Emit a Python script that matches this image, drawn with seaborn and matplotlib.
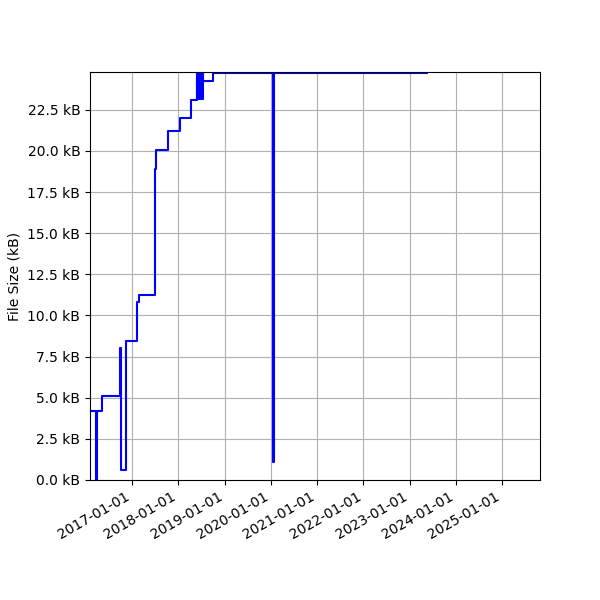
import pandas as pd
import seaborn as sns
import matplotlib
matplotlib.use("Agg")
import matplotlib.pyplot as plt
import matplotlib.dates as mdates
from matplotlib.ticker import FuncFormatter, MultipleLocator

# file size history (kB)
dates = [
    "2016-02-04", "2016-03-24", "2016-04-01", "2016-05-11", "2016-09-25",
    "2016-10-01", "2016-10-08", "2016-11-12", "2017-02-12", "2017-02-25",
    "2017-06-28", "2017-07-01", "2017-07-12", "2017-10-09", "2018-01-14",
    "2018-04-10", "2018-05-25", "2018-06-01", "2018-06-06", "2018-06-12",
    "2018-06-18", "2018-06-25", "2018-07-01", "2018-07-07", "2018-07-12",
    "2018-07-17", "2018-10-03", "2020-01-20", "2020-01-24", "2023-05-20",
]
sizes_kb = [
    4.19, 0.0, 4.19, 5.11, 6.10,
    8.03, 0.60, 8.43, 10.85, 11.27,
    15.60, 18.90, 20.07, 21.24, 22.00,
    23.12, 24.80, 23.15, 24.80, 23.15,
    24.80, 23.15, 24.80, 23.15, 24.80,
    24.23, 24.72, 1.07, 24.72, 24.72,
]

df = pd.DataFrame({"date": pd.to_datetime(dates), "size": sizes_kb})

fig, ax = plt.subplots(figsize=(6, 6), dpi=100)
sns.lineplot(data=df, x="date", y="size", color="blue", drawstyle="steps-post",
             linewidth=1.5, ax=ax)

ax.set_xlim(pd.Timestamp("2016-02-04"), pd.Timestamp("2025-10-27"))
ax.set_ylim(0, df["size"].max())
ax.yaxis.set_major_locator(MultipleLocator(2.5))
ax.yaxis.set_major_formatter(FuncFormatter(lambda v, p: "{:.1f} kB".format(v)))
ax.xaxis.set_major_locator(mdates.YearLocator())
ax.xaxis.set_major_formatter(mdates.DateFormatter("%Y-%m-%d"))
ax.set_xlabel("")
ax.set_ylabel("File Size (kB)")
ax.grid(True)
fig.autofmt_xdate()
plt.subplots_adjust(left=0.15, right=0.9, top=0.88, bottom=0.2)
plt.savefig("out.png")
